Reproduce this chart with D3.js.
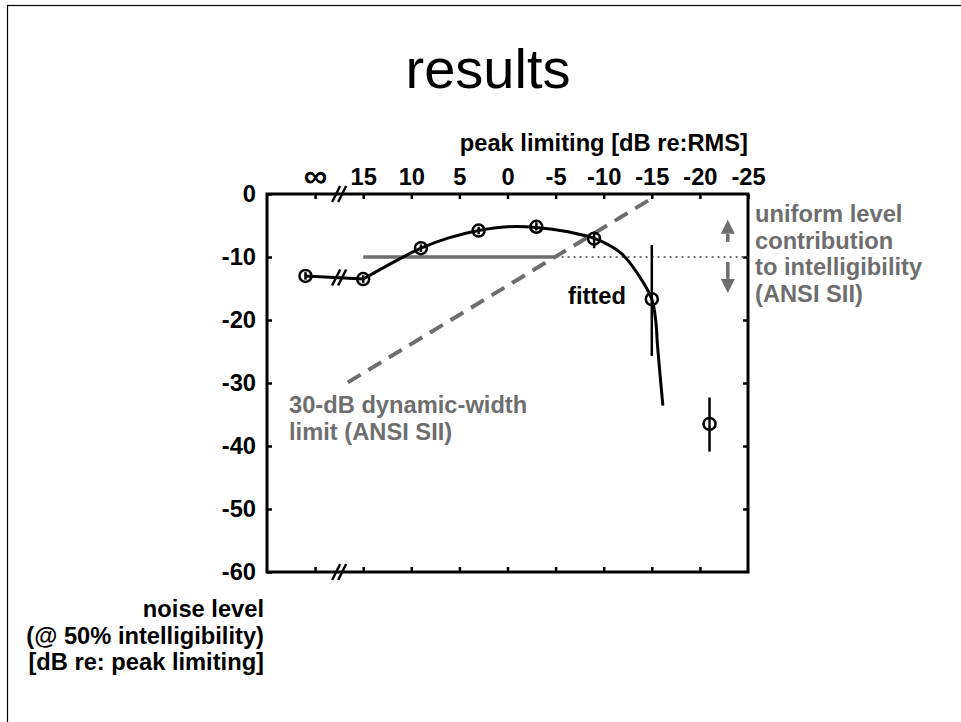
<!DOCTYPE html>
<html>
<head>
<meta charset="utf-8">
<script src="https://cdn.jsdelivr.net/npm/d3@7"></script>
<style>
  body { margin: 0; background: #fff; }
  svg text { font-family: "Liberation Sans", Arial, sans-serif; }
</style>
</head>
<body>
<svg id="chart" width="961" height="722"></svg>
<script>
// peak limiting axis: the "∞" column sits at a pseudo value of 20
const peakTicks = [20, 15, 10, 5, 0, -5, -10, -15, -20, -25];
const peakTickLabels = ["∞", "15", "10", "5", "0", "-5", "-10", "-15", "-20", "-25"];
const noiseTicks = [0, -10, -20, -30, -40, -50, -60];

// measured thresholds
const measuredPeak = [21, 15, 9, 3, -3, -9, -15, -21];
const measuredNoise = [-13.0, -13.5, -8.6, -5.8, -5.2, -7.1, -16.7, -36.5];
const errTop = [-12.4, -12.9, -8.0, -5.2, -4.5, -6.2, -8.1, -32.3];
const errBottom = [-13.6, -14.1, -9.2, -6.4, -5.8, -8.6, -25.7, -40.9];

// fitted curve
const fitPeak = [15, 11.7, 9, 6.2, 3, 0, -3, -6.3, -9.1, -11.8, -13.5, -15, -15.4, -15.6, -16.15];
const fitNoise = [-13.5, -10.7, -8.6, -7.0, -5.8, -5.2, -5.3, -6.0, -7.1, -9.4, -12.6, -16.7, -20, -24.2, -33.6];

// reference lines
const uniformLevel = -10;
const uniformSolid = [15, -5];
const uniformDotted = [-5, -25];
const dynWidthPeak = [16.6, -15];
const dynWidthNoise = [-29.9, -0.7];

const svg = d3.select("#chart");
const box = { left: 267, right: 748, top: 194, bottom: 572 };
const gray = "#6e6e6e";
const fs = 23.7;

const x = d3.scaleLinear().domain([25, -25]).range([box.left, box.right]);
const y = d3.scaleLinear().domain([0, -60]).range([box.top, box.bottom]);

// slide frame
svg.append("rect").attr("x", 7.5).attr("y", 5.5).attr("width", 1000).attr("height", 1000)
  .attr("fill", "none").attr("stroke", "#000").attr("stroke-width", 1.2);

svg.append("text").attr("x", 488).attr("y", 88).attr("text-anchor", "middle")
  .attr("font-size", 56).text("results");

svg.append("text").attr("x", box.right).attr("y", 151).attr("text-anchor", "end")
  .attr("font-size", fs).attr("font-weight", "bold").text("peak limiting [dB re:RMS]");

// axes (ticks point inward)
const topAxis = d3.axisTop(x).tickValues(peakTicks).tickSize(-5).tickPadding(9)
  .tickFormat((d, i) => peakTickLabels[i]);
const gTop = svg.append("g").attr("transform", `translate(0,${box.top})`).call(topAxis);

const bottomAxis = d3.axisBottom(x).tickValues(peakTicks.slice(0, 9)).tickSize(-5).tickFormat("");
const gBottom = svg.append("g").attr("transform", `translate(0,${box.bottom})`).call(bottomAxis);

const leftAxis = d3.axisLeft(y).tickValues(noiseTicks).tickSize(-5).tickPadding(11)
  .tickFormat(d => String(d));
const gLeft = svg.append("g").attr("transform", `translate(${box.left},0)`).call(leftAxis);

const rightAxis = d3.axisRight(y).tickValues(noiseTicks.slice(1, 6)).tickSize(-5).tickFormat("");
const gRight = svg.append("g").attr("transform", `translate(${box.right},0)`).call(rightAxis);

[gTop, gBottom, gLeft, gRight].forEach(g => {
  g.select(".domain").remove();
  g.selectAll(".tick line").attr("stroke", "#000").attr("stroke-width", 2.5);
  g.selectAll(".tick text").attr("font-size", fs).attr("font-weight", "bold")
    .attr("font-family", "Liberation Sans, Arial, sans-serif").attr("fill", "#000");
});
gTop.selectAll(".tick text").filter((d, i) => i === 0).attr("font-size", 33).attr("dy", "0.05em");

svg.append("rect").attr("x", box.left).attr("y", box.top)
  .attr("width", box.right - box.left).attr("height", box.bottom - box.top)
  .attr("fill", "none").attr("stroke", "#000").attr("stroke-width", 3);

// axis break marks
function breakMark(cx, cy) {
  [-3, 3].forEach(o => {
    svg.append("line")
      .attr("x1", cx + o - 4).attr("y1", cy + 8)
      .attr("x2", cx + o + 4).attr("y2", cy - 8)
      .attr("stroke", "#000").attr("stroke-width", 2.5);
  });
}
breakMark(x(17.5), box.top);
breakMark(x(17.5), box.bottom);

// 30-dB dynamic width line
svg.append("line")
  .attr("x1", x(dynWidthPeak[0])).attr("y1", y(dynWidthNoise[0]))
  .attr("x2", x(dynWidthPeak[1])).attr("y2", y(dynWidthNoise[1]))
  .attr("stroke", gray).attr("stroke-width", 4).attr("stroke-dasharray", "15,9");

// uniform level line
svg.append("line")
  .attr("x1", x(uniformSolid[0])).attr("x2", x(uniformSolid[1]))
  .attr("y1", y(uniformLevel)).attr("y2", y(uniformLevel))
  .attr("stroke", gray).attr("stroke-width", 3.5);
svg.append("line")
  .attr("x1", x(uniformDotted[0])).attr("x2", x(uniformDotted[1]))
  .attr("y1", y(uniformLevel)).attr("y2", y(uniformLevel))
  .attr("stroke", gray).attr("stroke-width", 1.8).attr("stroke-dasharray", "2,4");

// arrows: shaft start, head tip (dB)
const arrowX = -22.9;
[[-7.6, -4.1], [-10.8, -15.7]].forEach(([a, b]) => {
  const ax = x(arrowX), y0 = y(a), tip = y(b);
  const dir = tip < y0 ? -1 : 1;
  const base = tip - dir * 14;
  svg.append("line").attr("x1", ax).attr("x2", ax).attr("y1", y0).attr("y2", base)
    .attr("stroke", gray).attr("stroke-width", 3.5);
  svg.append("path")
    .attr("d", `M${ax - 7},${base} L${ax + 7},${base} L${ax},${tip} Z`)
    .attr("fill", gray);
});

// fitted curve
const fitLine = d3.line().x(d => x(d[0])).y(d => y(d[1])).curve(d3.curveCatmullRom.alpha(0.5));
svg.append("path").datum(fitPeak.map((p, i) => [p, fitNoise[i]]))
  .attr("d", fitLine).attr("fill", "none").attr("stroke", "#000").attr("stroke-width", 3);
svg.append("line")
  .attr("x1", x(measuredPeak[0])).attr("y1", y(measuredNoise[0]))
  .attr("x2", x(measuredPeak[1])).attr("y2", y(measuredNoise[1]))
  .attr("stroke", "#000").attr("stroke-width", 3);
breakMark(x(17.5), y((measuredNoise[0] + measuredNoise[1]) / 2));

// error bars and markers
const pts = measuredPeak.map((p, i) => ({ p, v: measuredNoise[i], hi: errTop[i], lo: errBottom[i] }));
svg.selectAll(".err").data(pts).enter().append("line").attr("class", "err")
  .attr("x1", d => x(d.p)).attr("x2", d => x(d.p))
  .attr("y1", d => y(d.hi)).attr("y2", d => y(d.lo))
  .attr("stroke", "#000").attr("stroke-width", 2.5);
svg.selectAll(".pt").data(pts).enter().append("circle").attr("class", "pt")
  .attr("cx", d => x(d.p)).attr("cy", d => y(d.v)).attr("r", 6)
  .attr("fill", "none").attr("stroke", "#000").attr("stroke-width", 2.5);

// labels
svg.append("text").attr("x", 568).attr("y", 304).attr("font-size", fs).attr("font-weight", "bold")
  .text("fitted");

const rightNote = ["uniform level", "contribution", "to intelligibility", "(ANSI SII)"];
svg.append("g").selectAll("text").data(rightNote).enter().append("text")
  .attr("x", 755).attr("y", (d, i) => 222 + i * 26.5)
  .attr("font-size", fs).attr("font-weight", "bold").attr("fill", gray).text(d => d);

const dynNote = ["30-dB dynamic-width", "limit (ANSI SII)"];
svg.append("g").selectAll("text").data(dynNote).enter().append("text")
  .attr("x", 289).attr("y", (d, i) => 413 + i * 27)
  .attr("font-size", fs).attr("font-weight", "bold").attr("fill", gray).text(d => d);

const yNote = ["noise level", "(@ 50% intelligibility)", "[dB re: peak limiting]"];
svg.append("g").selectAll("text").data(yNote).enter().append("text")
  .attr("x", 264).attr("y", (d, i) => 617 + i * 26.5).attr("text-anchor", "end")
  .attr("font-size", fs).attr("font-weight", "bold").text(d => d);
</script>
</body>
</html>
